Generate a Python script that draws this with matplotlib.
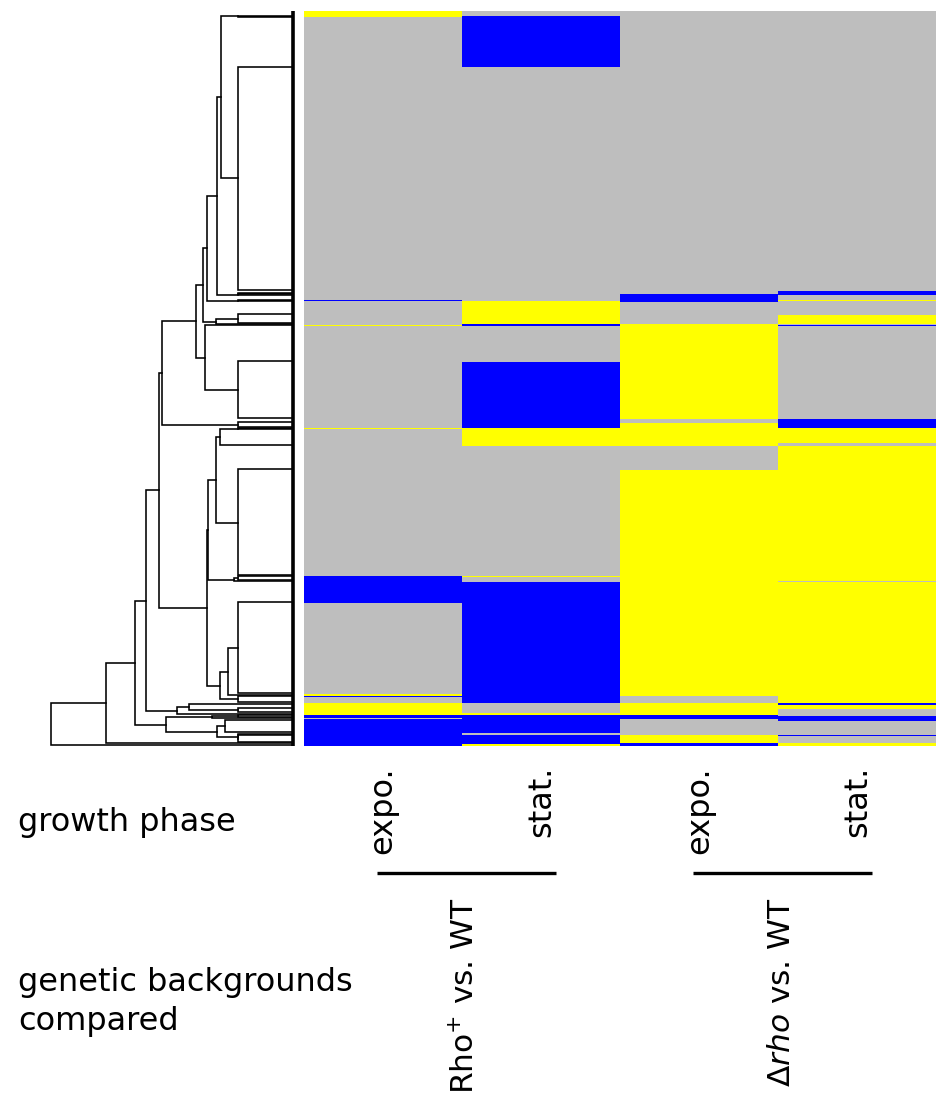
import numpy as np
import matplotlib
matplotlib.use("Agg")
import matplotlib.pyplot as plt
from matplotlib.colors import ListedColormap
from matplotlib.transforms import blended_transform_factory

# gene groups from top to bottom: size and call in each comparison
# Y = up, G = no change, B = down
# order of calls: Rho+ expo, Rho+ stat, drho expo, drho stat
block_rows = [5, 1, 50, 224, 3, 1, 5, 1, 1, 13, 9, 1, 1, 36, 57, 4, 5,
              1, 14, 3, 24, 106, 1, 4, 1, 21, 91, 2, 1, 6, 2, 4, 4, 2,
              1, 2, 1, 2, 12, 2, 1, 7, 1, 2]
block_calls = ["YGGG", "YBGG", "GBGG", "GGGG", "GGGB", "GGBB", "GGBG",
               "BGBY", "GYBG", "GYGG", "GYGY", "GBYG", "YBYB", "GGYG",
               "GBYG", "GBGB", "GBYB", "YYYY", "GYYY", "GYYG", "GGGY",
               "GGYY", "BYYY", "BGYY", "BGYG", "BBYY", "GBYY", "YBYY",
               "BBGY", "GBGY", "YGYB", "YGYY", "YGYG", "YYYG", "BBBG",
               "BBBB", "GBBB", "BBGB", "BBGG", "BGGG", "BBYB", "BBYG",
               "BBBY", "BYBY"]
top_anchored = [6, 18]   # groups whose branch sits on their first gene

col_labels = ["expo.", "stat.", "expo.", "stat."]
group_labels = [r"Rho$^{+}$ vs. WT", r"$\Delta\mathit{rho}$ vs. WT"]
row_titles = ["growth phase", "genetic backgrounds\ncompared"]

# clustering tree: (height, left, right), leaves are group indices
N1 = (1.0, 0, 1)
N2 = (1.0, 2, 3)
N3 = (1.31, N1, N2)
X = (1.0, (1.0, 4, 5), 6)
N4 = (1.39, N3, X)
Yn = (1.0, 7, 8)
N5 = (1.57, N4, Yn)
Z = (1.41, (1.0, 9, 10), 11)
N6 = (1.63, N5, Z)
W = (1.61, 12, (1.0, 13, 14))
N7 = (1.76, N6, W)
V = (1.0, 15, 16)
N8 = (2.38, N7, V)
U1 = (1.33, (1.0, 17, 18), 19)
U3 = (1.0, 20, 21)
U2 = (1.40, U1, U3)
U4 = (1.54, U2, (1.07, (1.0, 22, 23), 24))
T = (1.33, (1.19, (1.0, 25, 26), 27), (1.0, 28, 29))
U5 = (1.57, U4, T)
N9 = (2.43, N8, U5)
S = (2.11, (1.89, 30, (1.0, 31, 32)), 33)
N10 = (2.67, N9, S)
R = (2.31, (1.48, (1.0, 34, 35), 36),
     (1.39, (1.24, 37, 38), (1.0, 39, (1.0, 40, 41))))
N11 = (2.88, N10, R)
N12 = (3.40, N11, 42)
tree = (4.41, N12, 43)

code = {"B": -1, "G": 0, "Y": 1}
mat = np.array([[code[c] for c in s] for s in block_calls])
mat = np.repeat(mat, block_rows, axis=0)
n = mat.shape[0]
starts = np.concatenate([[0], np.cumsum(block_rows)[:-1]])

W_PX, H_PX = 937, 1097
fig = plt.figure(figsize=(W_PX / 100, H_PX / 100), dpi=100)
fy = lambda p: 1 - p / H_PX
fx = lambda p: p / W_PX

bottom = fy(746)
height = 735 / H_PX
axh = fig.add_axes([fx(304), bottom, fx(633), height])
axh.imshow(mat, cmap=ListedColormap(["#0000FF", "#BEBEBE", "#FFFF00"]),
           vmin=-1, vmax=1, aspect="auto", interpolation="nearest",
           extent=(0, 4, n, 0))
axh.set_xlim(0, 4)
axh.set_ylim(n, 0)
axh.axis("off")

axd = fig.add_axes([fx(50.7), bottom, fx(293 - 50.7), height])
axd.set_xlim(tree[0], 0)
axd.set_ylim(n, 0)
axd.axis("off")


def leaf_pos(i):
    if i in top_anchored:
        return starts[i] + 0.5
    return starts[i] + block_rows[i] - 0.5


def draw(node):
    if isinstance(node, int):
        return leaf_pos(node), 0.0
    h, a, b = node
    ya, ha = draw(a)
    yb, hb = draw(b)
    axd.plot([ha, h, h, hb], [ya, ya, yb, yb], color="k", lw=1.15,
             clip_on=False, solid_joinstyle="miter")
    return (ya + yb) / 2, h


draw(tree)
axd.vlines(np.zeros(len(starts)), starts, starts + np.array(block_rows),
           color="k", lw=2.6, clip_on=False)

fs = 23
trans = blended_transform_factory(axh.transData, fig.transFigure)
for i, lab in enumerate(col_labels):
    axh.text(i + 0.5, fy(766), lab, rotation=90, ha="center", va="top",
             fontsize=fs, transform=trans)
for i, lab in enumerate(group_labels):
    c = 2 * i + 1.02
    axh.plot([c - 0.56, c + 0.57], [fy(873), fy(873)], color="k", lw=2.4,
             transform=trans, clip_on=False, solid_capstyle="butt")
    axh.text(c, fy(897), lab, rotation=90, ha="center", va="top",
             fontsize=22.5, transform=trans)

fig.text(fx(18), fy(822), row_titles[0], ha="left", va="center", fontsize=fs)
fig.text(fx(18), fy(1002), row_titles[1], ha="left", va="center", fontsize=fs,
         linespacing=1.3)

fig.savefig("out.png", dpi=100)
